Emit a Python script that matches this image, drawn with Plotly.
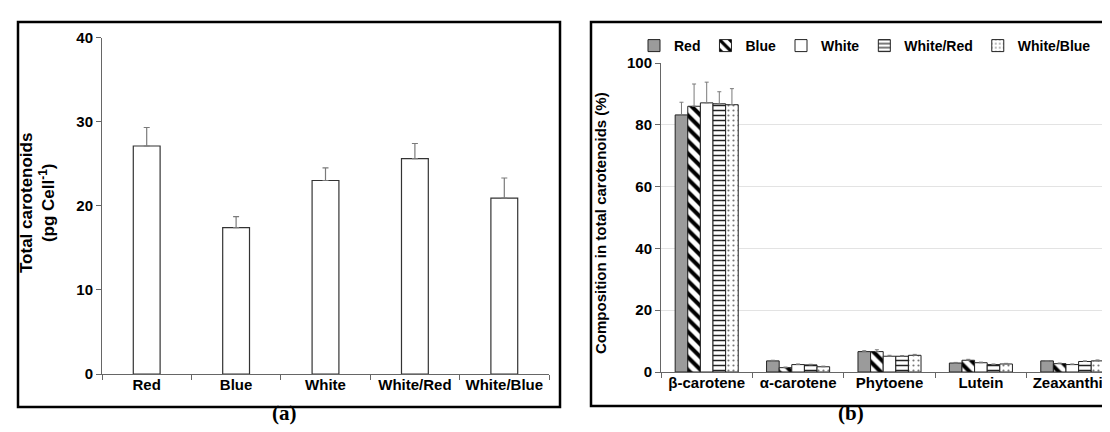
import plotly.graph_objects as go

# panel (a): total carotenoids
lights = ["Red", "Blue", "White", "White/Red", "White/Blue"]
total_car = [27.1, 17.4, 23.0, 25.6, 20.9]
total_err = [2.2, 1.3, 1.5, 1.8, 2.4]

# panel (b): composition (%)
pigments = ["β-carotene", "α-carotene", "Phytoene", "Lutein", "Zeaxanthin"]
comp = {
    "Red":        [83.2, 3.6, 6.6, 2.9, 3.6],
    "Blue":       [86.0, 1.4, 6.6, 3.8, 2.7],
    "White":      [87.1, 2.4, 5.1, 3.0, 2.4],
    "White/Red":  [86.8, 2.3, 5.1, 2.4, 3.4],
    "White/Blue": [86.5, 1.7, 5.4, 2.6, 3.6],
}
comp_err = {
    "Red":        [4.1, 0.2, 0.3, 0.2, 0.1],
    "Blue":       [7.2, 0.2, 0.6, 0.3, 0.2],
    "White":      [6.7, 0.2, 0.3, 0.2, 0.2],
    "White/Red":  [3.9, 0.2, 0.2, 0.2, 0.2],
    "White/Blue": [5.2, 0.2, 0.3, 0.2, 0.3],
}

W, H = 1110, 432
FONT = "Liberation Sans"

def bold(size):
    return dict(family=FONT, size=size, color="black", weight="bold")

def px_x(v):
    return v / W

def px_y(v):
    return 1 - v / H

styles = {
    "Red": dict(color="#9b9b9b"),
    "Blue": dict(color="white", pattern=dict(shape="\\", fgcolor="black", bgcolor="white", size=9, solidity=0.45)),
    "White": dict(color="white"),
    "White/Red": dict(color="white", pattern=dict(shape="-", fgcolor="#222", bgcolor="white", size=5, solidity=0.3)),
    "White/Blue": dict(color="white", pattern=dict(shape=".", fgcolor="#777", bgcolor="white", size=5, solidity=0.15)),
}

fig = go.Figure()

fig.add_trace(go.Bar(
    x=lights, y=total_car, xaxis="x", yaxis="y", width=0.3,
    marker=dict(color="white", line=dict(color="#333", width=1.2)),
    error_y=dict(type="data", array=total_err, symmetric=False, arrayminus=[0] * 5,
                 color="#7a7a7a", thickness=1.2, width=3),
    showlegend=False,
))

for name in lights:
    fig.add_trace(go.Bar(
        name=name, x=pigments, y=comp[name], xaxis="x2", yaxis="y2",
        marker=dict(line=dict(color="#222", width=1), **styles[name]),
        error_y=dict(type="data", array=comp_err[name], symmetric=False, arrayminus=[0] * 5,
                     color="#7a7a7a", thickness=1, width=2),
    ))

axis_common = dict(showline=True, linecolor="#666", linewidth=1, ticks="outside",
                   ticklen=5, tickcolor="#666", tickfont=bold(15), fixedrange=True)

fig.update_layout(
    width=W, height=H,
    template="none",
    paper_bgcolor="white", plot_bgcolor="white",
    margin=dict(l=0, r=0, t=0, b=0, autoexpand=False),
    barmode="group",
    font=bold(15),
    xaxis=dict(domain=[px_x(94), px_x(541)], anchor="y", tickson="boundaries",
               showgrid=False, ticklabelstandoff=-3, **axis_common),
    yaxis=dict(domain=[px_y(366), px_y(29.5)], anchor="x", range=[0, 40], dtick=10,
               showgrid=False, **axis_common),
    xaxis2=dict(domain=[px_x(653), 1.0], anchor="y2", tickson="boundaries",
                showgrid=False, ticklabelstandoff=-3, **axis_common),
    yaxis2=dict(domain=[px_y(364), px_y(55)], anchor="x2", range=[0, 100], dtick=20,
                showgrid=True, gridcolor="#e3e3e3", gridwidth=1, **axis_common),
    bargap=0.31, bargroupgap=0,
    legend=dict(orientation="h", x=px_x(626), xanchor="left", y=px_y(38), yanchor="middle",
                font=bold(14), bgcolor="rgba(0,0,0,0)", traceorder="normal", itemwidth=30,
                tracegroupgap=0),
)

# axis titles and captions
fig.add_annotation(x=px_x(30), y=px_y(195), xref="paper", yref="paper",
                   xanchor="center", yanchor="middle",
                   text="Total carotenoids<br>(pg Cell<sup>-1</sup>)",
                   textangle=-90, showarrow=False, font=bold(17))
fig.add_annotation(x=px_x(593), y=px_y(215), xref="paper", yref="paper",
                   xanchor="center", yanchor="middle",
                   text="Composition in total carotenoids (%)",
                   textangle=-90, showarrow=False, font=bold(15))
fig.add_annotation(x=px_x(276), y=px_y(405), xref="paper", yref="paper",
                   xanchor="center", yanchor="middle",
                   text="(<b>a</b>)", showarrow=False,
                   font=dict(family="Liberation Serif", size=21, color="black"))
fig.add_annotation(x=px_x(843), y=px_y(405), xref="paper", yref="paper",
                   xanchor="center", yanchor="middle",
                   text="(<b>b</b>)", showarrow=False,
                   font=dict(family="Liberation Serif", size=21, color="black"))

# panel frames
fig.add_shape(type="rect", xref="paper", yref="paper",
              x0=px_x(10), x1=px_x(552), y0=px_y(399), y1=px_y(14),
              line=dict(color="black", width=2.5))
fig.add_shape(type="rect", xref="paper", yref="paper",
              x0=px_x(583), x1=1.02, y0=px_y(398), y1=px_y(14),
              line=dict(color="black", width=2.5))

fig.write_html("out.html", config={"displayModeBar": False})
